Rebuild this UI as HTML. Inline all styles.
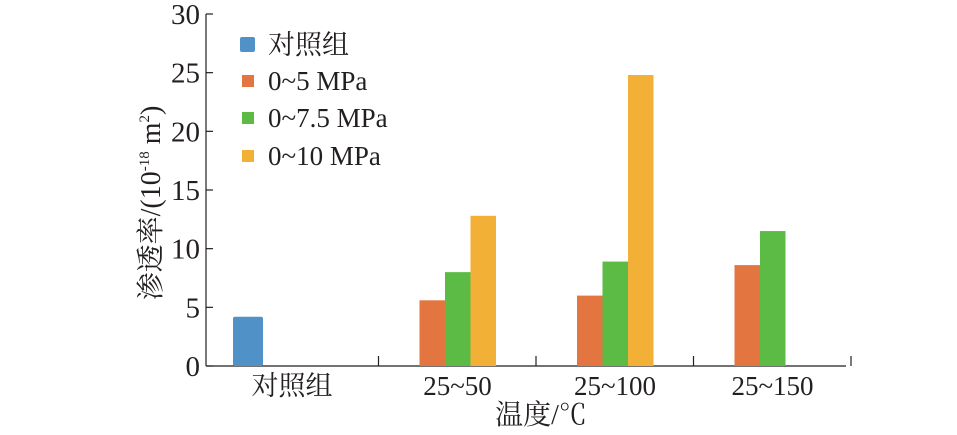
<!DOCTYPE html>
<html><head><meta charset="utf-8"><style>
body{margin:0;background:#fff;}
svg text{font-family:"Liberation Serif","Noto Serif CJK SC","Noto Sans CJK SC",serif;fill:#231f20;}
</style></head><body>
<svg id="chart" width="957" height="430" viewBox="0 0 957 430" xmlns="http://www.w3.org/2000/svg">
<g id="axes"></g><g id="bars"></g>
<text transform="translate(160,203) rotate(-90)" text-anchor="middle" font-size="28">渗透率/(10<tspan font-size="15" dy="-11">-18</tspan><tspan dy="11"> m</tspan><tspan font-size="15" dy="-11">2</tspan><tspan dy="11">)</tspan></text>
<text x="541" y="424" text-anchor="middle" font-size="28">温度/℃</text>
<g font-size="27">
<rect x="240" y="37" width="15" height="15" rx="2" fill="#5091c8"/>
<text x="268" y="54">对照组</text>
<rect x="242" y="75" width="12" height="12" fill="#e37640"/>
<text x="268" y="90">0~5 MPa</text>
<rect x="242" y="112" width="12" height="12" fill="#5bbb45"/>
<text x="268" y="127">0~7.5 MPa</text>
<rect x="242" y="150" width="12" height="12" fill="#f2b136"/>
<text x="268" y="165">0~10 MPa</text>
</g>
</svg>
<script>
const categories=["对照组","25~50","25~100","25~150"];
const controlValues=[4.2,null,null,null];
const s5=[null,5.6,6.0,8.6];
const s75=[null,8.0,8.9,11.5];
const s10=[null,12.8,24.8,null];
const yTicks=[0,5,10,15,20,25,30];
const NS="http://www.w3.org/2000/svg";
const y=v=>366-v*(352/30);
const bandStart=i=>221+i*157.5;
const ax=document.getElementById('axes'),bg=document.getElementById('bars');
function mk(tag,attrs,parent){const e=document.createElementNS(NS,tag);for(const k in attrs)e.setAttribute(k,attrs[k]);parent.appendChild(e);return e;}
let l=mk('line',{x1:206,y1:14,x2:206,y2:366,stroke:'#231f20','stroke-width':1.2},ax);


l=mk('line',{x1:206,y1:366,x2:846,y2:366,stroke:'#231f20','stroke-width':1.2},ax);


yTicks.forEach(t=>{
 const tk=mk('line',{x1:206,x2:213,y1:y(t),y2:y(t),stroke:'#231f20','stroke-width':1.2},ax);
 
 
 const tx=mk('text',{x:200,y:y(t)+10,'text-anchor':'end','font-size':29},ax);
 tx.textContent=t;
 
 
});
categories.forEach((c,i)=>{
 const sx=bandStart(i+1);
 const tk=mk('line',{x1:sx,x2:sx,y1:356,y2:366,stroke:'#231f20','stroke-width':1.2},ax);
 
 
 const tx=mk('text',{x:bandStart(i)+(i==0?71:79),y:395,'text-anchor':'middle','font-size':27},ax);
 tx.textContent=c;
 
 
 if(controlValues[i]!=null){
  const r=mk('rect',{x:bandStart(i)+12,y:y(controlValues[i]),width:30,height:366-y(controlValues[i]),rx:2,fill:'#5091c8'},bg);
  
  
 }
 [[s5,'#e37640','bar-5mpa'],[s75,'#5bbb45','bar-7-5mpa'],[s10,'#f2b136','bar-10mpa']].forEach((s,j)=>{
  const v=s[0][i]; if(v==null)return;
  const r=mk('rect',{x:bandStart(i)+41+j*25.5,y:y(v),width:25.5,height:366-y(v),fill:s[1]},bg);
  
  
 });
});
</script>
</body></html>
